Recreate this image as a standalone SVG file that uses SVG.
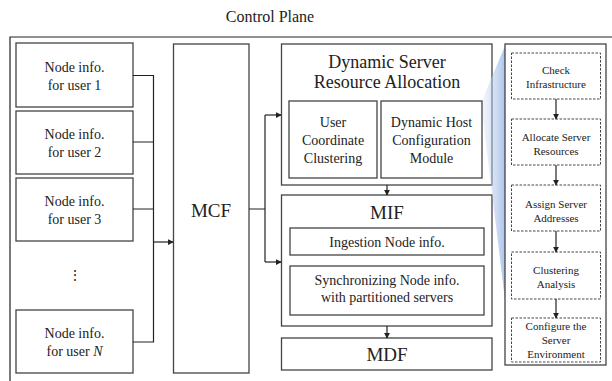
<svg xmlns="http://www.w3.org/2000/svg" width="612" height="381" viewBox="0 0 612 381" font-family="'Liberation Serif','Times New Roman',serif">
<defs>
<style>
.box{fill:#fff;stroke:#444;stroke-width:1.3}
.dbox{fill:#fff;stroke:#444;stroke-width:1;stroke-dasharray:2.5,1.5}
.ln{fill:none;stroke:#222;stroke-width:1.2}
.t{font-family:'Liberation Serif','Times New Roman',serif;fill:#222;text-anchor:middle}
.s14{font-size:14px}
.s11{font-size:11px}
.s19{font-size:19px}
</style>
<marker id="ah" viewBox="0 0 8 8" refX="7" refY="4" markerWidth="6" markerHeight="6" orient="auto" markerUnits="userSpaceOnUse">
<path d="M0,0 L8,4 L0,8 Z" fill="#222"/>
</marker>
<linearGradient id="beam" x1="482" y1="0" x2="506" y2="0" gradientUnits="userSpaceOnUse">
<stop offset="0" stop-color="#c4d6f2" stop-opacity="0.2"/>
<stop offset="1" stop-color="#9fbbe8" stop-opacity="0.9"/>
</linearGradient>
</defs>
<rect width="612" height="381" fill="#fff"/>
<text class="t" x="270" y="22" font-size="16">Control Plane</text>
<path class="ln" d="M10,381 V37 H612" stroke="#333"/>

<g id="user1"><rect class="box" x="16" y="43" width="117" height="64"/>
<text class="t s14" x="74.5" y="72">Node info.</text><text class="t s14" x="74.5" y="90">for user 1</text></g>
<g id="user2"><rect class="box" x="16" y="111" width="117" height="63"/>
<text class="t s14" x="74.5" y="139">Node info.</text><text class="t s14" x="74.5" y="157">for user 2</text></g>
<g id="user3"><rect class="box" x="16" y="178" width="117" height="63"/>
<text class="t s14" x="74.5" y="206">Node info.</text><text class="t s14" x="74.5" y="224">for user 3</text></g>
<g id="dots"><text class="t s14" x="74.5" y="280">⋮</text></g>
<g id="userN"><rect class="box" x="16" y="310" width="117" height="63"/>
<text class="t s14" x="74.5" y="338">Node info.</text><text class="t s14" x="74.5" y="356">for user <tspan font-style="italic">N</tspan></text></g>

<g id="mcf"><rect class="box" x="173.5" y="44" width="75.5" height="329"/>
<text class="t s19" x="211" y="217">MCF</text></g>

<g id="dsra"><rect class="box" x="281.5" y="44" width="210.5" height="141"/>
<text class="t" font-size="18" x="387" y="68">Dynamic Server</text>
<text class="t" font-size="18" x="387" y="88">Resource Allocation</text></g>
<g id="ucc"><rect class="box" x="289" y="101" width="88" height="77"/>
<text class="t s14" x="333" y="127">User</text><text class="t s14" x="333" y="145">Coordinate</text><text class="t s14" x="333" y="163">Clustering</text></g>
<g id="dhcm"><rect class="box" x="381" y="101" width="101" height="77"/>
<text class="t s14" x="431.5" y="127">Dynamic Host</text><text class="t s14" x="431.5" y="145">Configuration</text><text class="t s14" x="431.5" y="163">Module</text></g>

<g id="mif"><rect class="box" x="281.5" y="195" width="210.5" height="131"/>
<text class="t s19" x="387" y="219">MIF</text></g>
<g id="ingest"><rect class="box" x="290" y="228" width="194" height="27"/>
<text class="t s14" x="387" y="247">Ingestion Node info.</text></g>
<g id="sync"><rect class="box" x="290" y="266" width="194" height="49"/>
<text class="t s14" x="387" y="285">Synchronizing Node info.</text><text class="t s14" x="387" y="302">with partitioned servers</text></g>

<g id="mdf"><rect class="box" x="281.5" y="338" width="210.5" height="32"/>
<text class="t s19" x="387" y="361">MDF</text></g>

<g id="beam-shade"><polygon points="483,98 505,46 505,300 488,160 483,120" fill="url(#beam)"/></g>

<g id="panel"><rect class="box" x="505" y="44" width="101" height="321"/></g>
<g id="s1"><rect class="dbox" x="511.5" y="53" width="89" height="46"/>
<text class="t s11" x="556" y="74">Check</text><text class="t s11" x="556" y="88">Infrastructure</text></g>
<g id="s2"><rect class="dbox" x="511.5" y="119" width="89" height="46"/>
<text class="t s11" x="556" y="141">Allocate Server</text><text class="t s11" x="556" y="155">Resources</text></g>
<g id="s3"><rect class="dbox" x="511.5" y="185" width="89" height="46"/>
<text class="t s11" x="556" y="208">Assign Server</text><text class="t s11" x="556" y="222">Addresses</text></g>
<g id="s4"><rect class="dbox" x="511.5" y="252" width="89" height="47"/>
<text class="t s11" x="556" y="274">Clustering</text><text class="t s11" x="556" y="288">Analysis</text></g>
<g id="s5"><rect class="dbox" x="511.5" y="318" width="89" height="44"/>
<text class="t s11" x="556" y="330">Configure the</text><text class="t s11" x="556" y="344">Server</text><text class="t s11" x="556" y="358">Environment</text></g>

<g id="connectors">
<path class="ln" d="M133,75.5 H153.5 V342 H133 M133,142 H153.5 M133,209 H153.5"/>
<path class="ln" d="M153.5,242 H173" marker-end="url(#ah)"/>
<path class="ln" d="M249,209 H265 M265,115 V262"/>
<path class="ln" d="M265,115 H281" marker-end="url(#ah)"/>
<path class="ln" d="M265,262 H281" marker-end="url(#ah)"/>
<path class="ln" d="M387,185 V195" marker-end="url(#ah)"/>
<path class="ln" d="M387,326 V338" marker-end="url(#ah)"/>
<path class="ln" d="M556,99 V119" marker-end="url(#ah)"/>
<path class="ln" d="M556,165 V185" marker-end="url(#ah)"/>
<path class="ln" d="M556,231 V252" marker-end="url(#ah)"/>
<path class="ln" d="M556,299 V318" marker-end="url(#ah)"/>
</g>
</svg>
